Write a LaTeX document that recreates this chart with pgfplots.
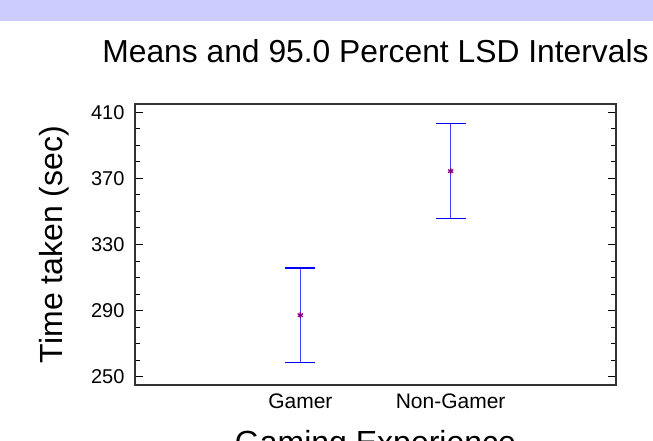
\documentclass[border=0pt]{standalone}
\usepackage{pgfplots}
\pgfplotsset{compat=1.18}
\usepackage{fontspec}
\setmainfont{Liberation Sans}
\definecolor{band}{RGB}{204,204,255}
\definecolor{meanc}{RGB}{128,0,128}
\begin{document}
\begin{tikzpicture}[x=1pt,y=1pt]
\path[use as bounding box, clip] (0,0) rectangle (653,440);
\fill[band] (0,419.3) rectangle (653,440);
\begin{axis}[
 at={(135pt,55pt)}, anchor=south west, scale only axis, width=481pt, height=281pt,
 xmin=-0.1, xmax=3.1, ymin=245, ymax=415,
 xtick={1,2}, xticklabels={Gamer,Non-Gamer},
 ytick={250,290,330,370,410}, minor y tick num=3,
 tick align=inside, major tick length=8pt, minor tick length=5pt,
 x tick style={draw=none},
 y tick style={black, line width=1pt},
 axis line style={black!80, line width=1.3pt},
 yticklabel pos=left, xtick pos=bottom,
 /pgf/number format/assume math mode=true,
 yticklabel style={font=\fontsize{20}{20}\selectfont, xshift=-7pt},
 xticklabel style={font=\fontsize{21}{21}\selectfont, yshift=-5pt},
 title={Means and 95.0 Percent LSD Intervals},
 title style={at={(axis description cs:0.5,1.1246)}, anchor=base, font=\fontsize{31.8}{32}\selectfont},
 xlabel={Gaming Experience}, ylabel={Time taken (sec)},
 every axis x label/.style={at={(axis description cs:0.5,-0.242)}, anchor=base, font=\fontsize{32}{32}\selectfont},
 every axis y label/.style={at={(axis description cs:-0.1497,0.5)}, rotate=90, anchor=base, font=\fontsize{32}{32}\selectfont},
]
\addplot[only marks, mark=asterisk, mark size=3pt, color=meanc, line width=1.3pt,
  error bars/.cd, y dir=both, y explicit,
  error bar style={blue!75, line width=1pt},
  error mark options={blue, rotate=90, mark size=15pt, line width=1.2pt}]
  table[x=x, y=y, y error=e] {
x y e
1 287.25 28.55
2 374.4 28.6
};
\end{axis}
\end{tikzpicture}
\end{document}
